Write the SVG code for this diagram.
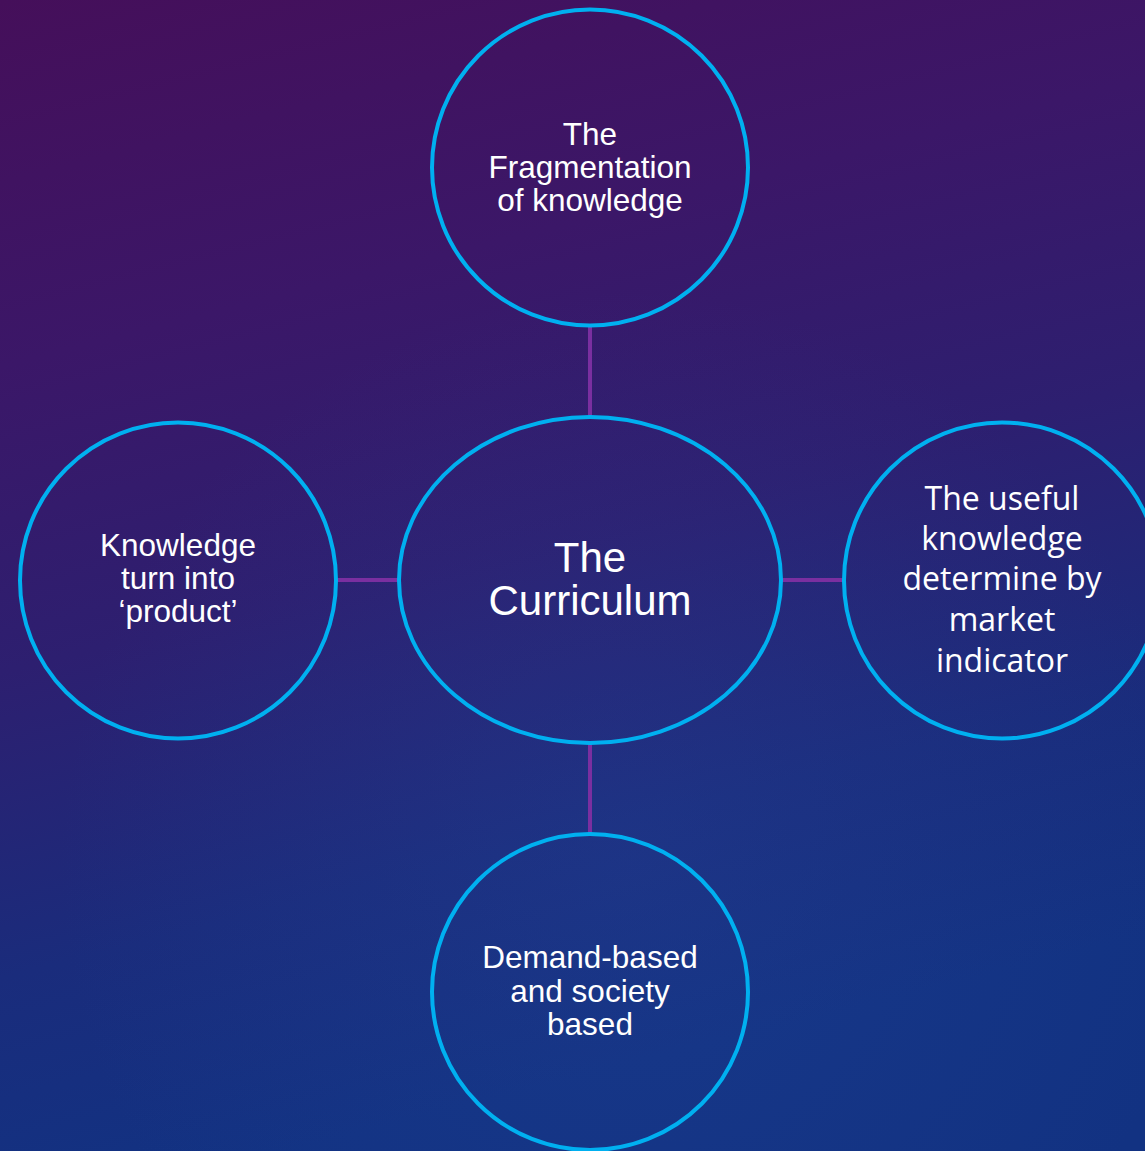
<svg xmlns="http://www.w3.org/2000/svg" width="1145" height="1151" viewBox="0 0 1145 1151">
  <defs>
    <linearGradient id="bg" x1="0" y1="0" x2="0.25" y2="1">
      <stop offset="0" stop-color="#450f5a"/>
      <stop offset="0.3" stop-color="#3b1768"/>
      <stop offset="0.55" stop-color="#2d1f70"/>
      <stop offset="0.8" stop-color="#1a2c7c"/>
      <stop offset="1" stop-color="#123282"/>
    </linearGradient>
    <radialGradient id="glow" cx="0.55" cy="0.75" r="0.5">
      <stop offset="0" stop-color="#2a4aa0" stop-opacity="0.25"/>
      <stop offset="1" stop-color="#2a4aa0" stop-opacity="0"/>
    </radialGradient>
    <style>
      .node { fill: none; stroke: #00b0f0; stroke-width: 4; }
      .conn { stroke: #7a2fa0; stroke-width: 4; fill: none; }
      .lbl { font-family: "Liberation Sans", Arial, sans-serif; font-size: 31.5px; fill: #ffffff; text-anchor: middle; }
      .big { font-family: "Liberation Sans", Arial, sans-serif; font-size: 42px; fill: #ffffff; text-anchor: middle; }
      .alt { font-family: "Open Sans", "Noto Sans", sans-serif; font-size: 32px; fill: #ffffff; text-anchor: middle; }
    </style>
  </defs>
  <rect width="1145" height="1151" fill="url(#bg)"/>
  <rect width="1145" height="1151" fill="url(#glow)"/>

  <g id="connectors">
    <line class="conn" x1="590" y1="326" x2="590" y2="417"/>
    <line class="conn" x1="590" y1="743" x2="590" y2="834"/>
    <line class="conn" x1="336" y1="580" x2="399" y2="580"/>
    <line class="conn" x1="781" y1="580" x2="844" y2="580"/>
  </g>

  <g id="node-top">
    <circle class="node" cx="590" cy="167.5" r="158"/>
    <text class="lbl" x="590" y="145">The</text>
    <text class="lbl" x="590" y="178">Fragmentation</text>
    <text class="lbl" x="590" y="211">of knowledge</text>
  </g>

  <g id="node-center">
    <ellipse class="node" cx="590" cy="580" rx="191" ry="163"/>
    <text class="big" x="590" y="572">The</text>
    <text class="big" x="590" y="615">Curriculum</text>
  </g>

  <g id="node-left">
    <circle class="node" cx="178" cy="580.5" r="158"/>
    <text class="lbl" x="178" y="556">Knowledge</text>
    <text class="lbl" x="178" y="589">turn into</text>
    <text class="lbl" x="178" y="622">‘product’</text>
  </g>

  <g id="node-right">
    <circle class="node" cx="1002" cy="580.5" r="158"/>
    <text class="alt" x="1002" y="510">The useful</text>
    <text class="alt" x="1002" y="550">knowledge</text>
    <text class="alt" x="1002" y="590">determine by</text>
    <text class="alt" x="1002" y="631">market</text>
    <text class="alt" x="1002" y="672">indicator</text>
  </g>

  <g id="node-bottom">
    <circle class="node" cx="590" cy="992" r="158"/>
    <text class="lbl" x="590" y="968">Demand-based</text>
    <text class="lbl" x="590" y="1002">and society</text>
    <text class="lbl" x="590" y="1035">based</text>
  </g>
</svg>
